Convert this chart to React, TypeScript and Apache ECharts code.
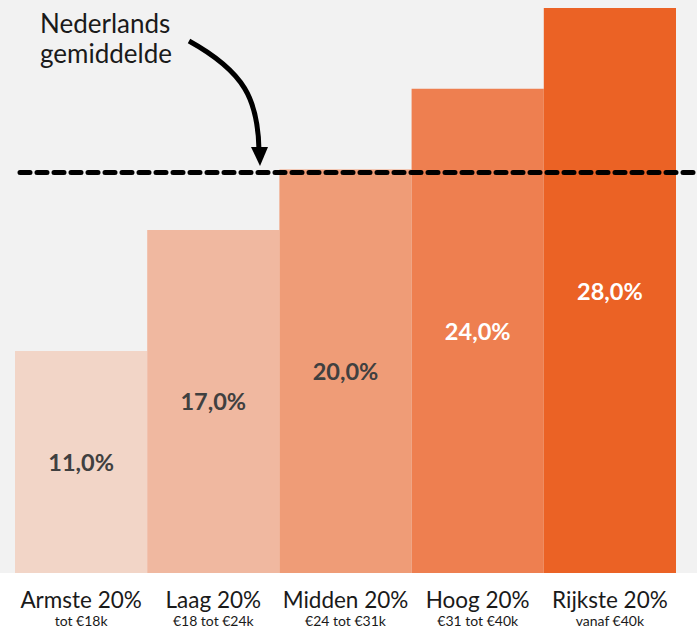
import React, { useEffect, useRef } from "react";
import * as echarts from "echarts";

const categories = ["Armste 20%", "Laag 20%", "Midden 20%", "Hoog 20%", "Rijkste 20%"];
const subLabels = ["tot €18k", "€18 tot €24k", "€24 tot €31k", "€31 tot €40k", "vanaf €40k"];
const values = [11, 17, 20, 24, 28];
const barColors = ["#f2d5c7", "#f0b8a0", "#ef9c77", "#ee7f50", "#eb6225"];
const labelColors = ["#404040", "#404040", "#404040", "#ffffff", "#ffffff"];
const averageValue = 19.85;
const annotation = ["Nederlands", "gemiddelde"];

export default function App() {
  const ref = useRef<HTMLDivElement>(null);
  useEffect(() => {
    document.body.style.margin = "0";
    const chart = echarts.init(ref.current!, undefined, { renderer: "svg" });
    const font = "Lato, 'Open Sans', sans-serif";
    chart.setOption({
      animation: false,
      grid: { left: 15, right: 21, top: 8, bottom: 55 },
      graphic: [
        { type: "rect", z: -10, shape: { x: 0, y: 0, width: 697, height: 573 }, style: { fill: "#f2f2f2" } },
        {
          type: "text",
          z: 10,
          style: {
            x: 40,
            y: 8,
            text: annotation.join("\n"),
            font: `26px ${font}`,
            fill: "#1a1a1a",
            lineHeight: 30,
          },
        },
        {
          type: "bezierCurve",
          z: 10,
          shape: { x1: 189, y1: 41, cpx1: 245, cpy1: 72, cpx2: 258, cpy2: 100, x2: 259, y2: 150 },
          style: { stroke: "#000", lineWidth: 5, fill: "none" },
        },
        {
          type: "polygon",
          z: 10,
          shape: { points: [[251, 147], [268, 147], [260, 166]] },
          style: { fill: "#000" },
        },
      ],
      xAxis: {
        type: "category",
        data: categories,
        axisLine: { show: false },
        axisTick: { show: false },
        axisLabel: {
          margin: 14,
          interval: 0,
          formatter: (v: string, i: number) => `{a|${v}}\n{b|${subLabels[i]}}`,
          rich: {
            a: { fontFamily: font, fontSize: 22.5, color: "#1a1a1a", lineHeight: 25 },
            b: { fontFamily: font, fontSize: 14, color: "#1a1a1a", lineHeight: 17 },
          },
        },
      },
      yAxis: { type: "value", min: 0, max: 28, show: false, splitLine: { show: false } },
      series: [
        {
          type: "bar",
          barWidth: "100%",
          barCategoryGap: 0,
          data: values.map((v, i) => ({
            value: v,
            itemStyle: { color: barColors[i] },
            label: { color: labelColors[i] },
          })),
          label: {
            show: true,
            position: "inside",
            fontFamily: font,
            fontWeight: "bold",
            fontSize: 23.5,
            formatter: (p: any) => p.value.toFixed(1).replace(".", ",") + "%",
          },
          markLine: {
            silent: true,
            symbol: "none",
            label: { show: false },
            lineStyle: { color: "#000", type: [10, 7], width: 5, cap: "round" },
            data: [[{ yAxis: averageValue, x: 20 }, { yAxis: averageValue, x: 694 }]],
          },
        },
      ],
    });
    return () => chart.dispose();
  }, []);
  return <div ref={ref} style={{ width: 697, height: 628 }} />;
}
